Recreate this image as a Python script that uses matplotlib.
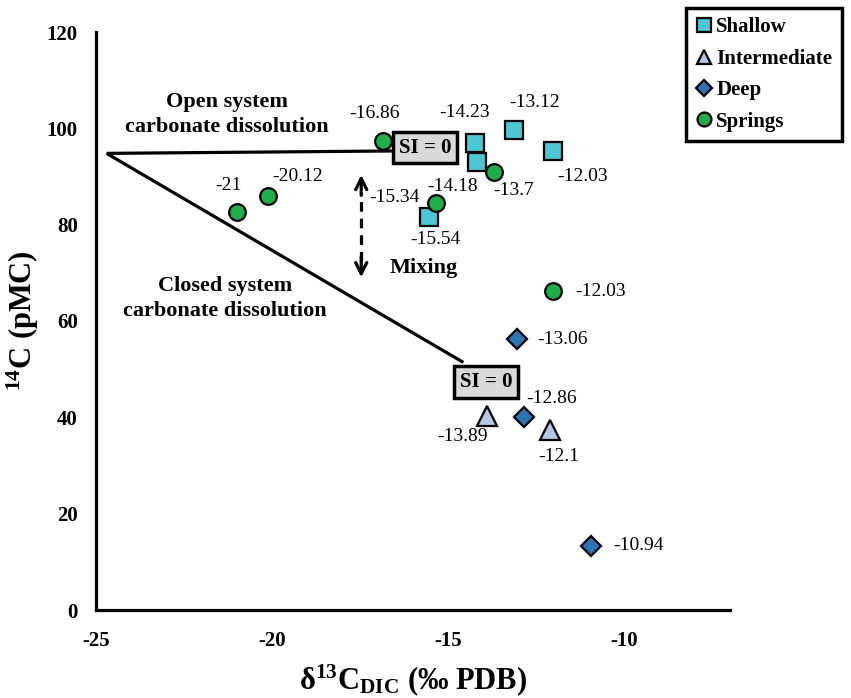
import matplotlib
matplotlib.use("Agg")
import matplotlib.pyplot as plt
from matplotlib.lines import Line2D

plt.rcParams['font.family'] = ['Liberation Serif', 'DejaVu Serif']
plt.rcParams['mathtext.fontset'] = 'custom'
plt.rcParams['mathtext.rm'] = 'Liberation Serif:bold'
plt.rcParams['mathtext.bf'] = 'Liberation Serif:bold'
plt.rcParams['mathtext.it'] = 'Liberation Serif:bold'
plt.rcParams['mathtext.default'] = 'rm'
plt.rcParams['axes.unicode_minus'] = False

# ---------------- data ----------------
shallow_x = [-14.23, -14.18, -13.12, -12.03, -15.54]
shallow_y = [96.9, 93.0, 99.6, 95.2, 81.5]
shallow_lbl = ["-14.23", "-14.18", "-13.12", "-12.03", "-15.54"]

inter_x = [-13.89, -12.1]
inter_y = [40.3, 37.3]
inter_lbl = ["-13.89", "-12.1"]

deep_x = [-13.06, -12.86, -10.94]
deep_y = [56.2, 40.0, 13.3]
deep_lbl = ["-13.06", "-12.86", "-10.94"]

spring_x = [-16.86, -13.7, -15.34, -21.0, -20.12, -12.03]
spring_y = [97.3, 90.9, 84.4, 82.6, 85.9, 66.2]
spring_lbl = ["-16.86", "-13.7", "-15.34", "-21", "-20.12", "-12.03"]

open_line_x = [-24.7, -16.6]
open_line_y = [94.8, 95.3]
closed_line_x = [-24.7, -14.57]
closed_line_y = [94.8, 51.4]

x_ticks = [-25, -20, -15, -10]
y_ticks = [0, 20, 40, 60, 80, 100, 120]

# label offsets in pixels (dx, dy)
shallow_off = [(-11, 31), (-25, -24), (20, 28), (30, -25), (6, -22)]
inter_off = [(-25, -21), (8, -26)]
deep_off = [(46, 0), (28, 19), (47, 0)]
spring_off = [(-8, 28), (20, -18), (-42, 6), (-8, 27), (30, 20), (48, 0)]

# ---------------- figure ----------------
fig = plt.figure(figsize=(8.51, 6.98), dpi=100)
ax = fig.add_axes([96/851, 1-610/698, (730-96)/851, (610-32)/698])
ax.set_xlim(-25, -7)
ax.set_ylim(0, 120)
ax.set_xticks(x_ticks)
ax.set_yticks(y_ticks)
for s in ['top', 'right']:
    ax.spines[s].set_visible(False)
for s in ['left', 'bottom']:
    ax.spines[s].set_linewidth(2.3)
ax.tick_params(length=0, labelsize=15)
ax.tick_params(axis='x', pad=15)
ax.tick_params(axis='y', pad=13)
for lab in ax.get_xticklabels() + ax.get_yticklabels():
    lab.set_fontweight('bold')

ax.set_xlabel('δ$^{13}$C$_{DIC}$ (‰ PDB)', fontsize=22, fontweight='bold', labelpad=8)
ax.set_ylabel('$^{14}$C (pMC)', fontsize=22, fontweight='bold', labelpad=4)

# lines
ax.plot(open_line_x, open_line_y, color='black', lw=2.3, zorder=2, solid_capstyle='butt')
ax.plot(closed_line_x, closed_line_y, color='black', lw=2.3, zorder=2, solid_capstyle='butt')

# SI = 0 boxes
box_kw = dict(fontsize=15, fontweight='bold', ha='center', va='center', zorder=5,
              bbox=dict(boxstyle='square,pad=0.28', fc='#d9d9d9', ec='black', lw=2.5))
ax.text(-15.65, 96.0, 'SI = 0', **box_kw)
ax.text(-13.92, 47.3, 'SI = 0', **box_kw)

# mixing arrow
mx = -17.47
ax.plot([mx, mx], [72.5, 86.5], color='black', lw=2.3, ls=(0, (3, 2.2)), zorder=2)
ax.annotate('', xy=(mx, 90.9), xytext=(mx, 85.5),
            arrowprops=dict(arrowstyle='->', lw=2.3, color='black', mutation_scale=20))
ax.annotate('', xy=(mx, 68.5), xytext=(mx, 74),
            arrowprops=dict(arrowstyle='->', lw=2.3, color='black', mutation_scale=20))
ax.text(-16.65, 71.0, 'Mixing', fontsize=16, fontweight='bold', ha='left', va='center')

ax.text(-21.28, 102.9, 'Open system\ncarbonate dissolution', fontsize=16, fontweight='bold',
        ha='center', va='center', linespacing=1.3)
ax.text(-21.34, 64.7, 'Closed system\ncarbonate dissolution', fontsize=16, fontweight='bold',
        ha='center', va='center', linespacing=1.3)

# markers
c_shallow = '#4cc6d4'
c_inter = '#b4c7e7'
c_deep = '#2e75b6'
c_spring = '#1faf4a'
mk = dict(ls='none', mec='black', mew=1.6, zorder=4)
ax.plot(shallow_x, shallow_y, marker='s', ms=13, mfc=c_shallow, **mk)
ax.plot(inter_x, inter_y, marker='^', ms=14, mfc=c_inter, **mk)
ax.plot(deep_x, deep_y, marker='D', ms=10, mfc=c_deep, **mk)
ax.plot(spring_x, spring_y, marker='o', ms=12, mfc=c_spring, **mk)

def labels(xs, ys, lbls, offs):
    for x, y, t, (dx, dy) in zip(xs, ys, lbls, offs):
        ax.annotate(t, (x, y), xytext=(dx, dy), textcoords='offset pixels',
                    ha='center', va='center', fontsize=14, zorder=6)

labels(shallow_x, shallow_y, shallow_lbl, shallow_off)
labels(inter_x, inter_y, inter_lbl, inter_off)
labels(deep_x, deep_y, deep_lbl, deep_off)
labels(spring_x, spring_y, spring_lbl, spring_off)

# legend
handles = [
    Line2D([], [], marker='s', ms=10, mfc=c_shallow, mec='black', mew=1.6, ls='none'),
    Line2D([], [], marker='^', ms=10, mfc=c_inter, mec='black', mew=1.6, ls='none'),
    Line2D([], [], marker='D', ms=8, mfc=c_deep, mec='black', mew=1.6, ls='none'),
    Line2D([], [], marker='o', ms=10, mfc=c_spring, mec='black', mew=1.6, ls='none'),
]
leg = fig.legend(handles, ['Shallow', 'Intermediate', 'Deep', 'Springs'],
                 loc='upper right', bbox_to_anchor=(0.989, 0.9885), borderaxespad=0,
                 prop={'family': 'Liberation Serif', 'weight': 'bold', 'size': 15},
                 handlelength=0.8, handletextpad=0.2, labelspacing=0.55,
                 borderpad=0.45, fancybox=False, framealpha=1, edgecolor='black')
leg.get_frame().set_linewidth(2.5)

fig.savefig('out.png', dpi=100)
